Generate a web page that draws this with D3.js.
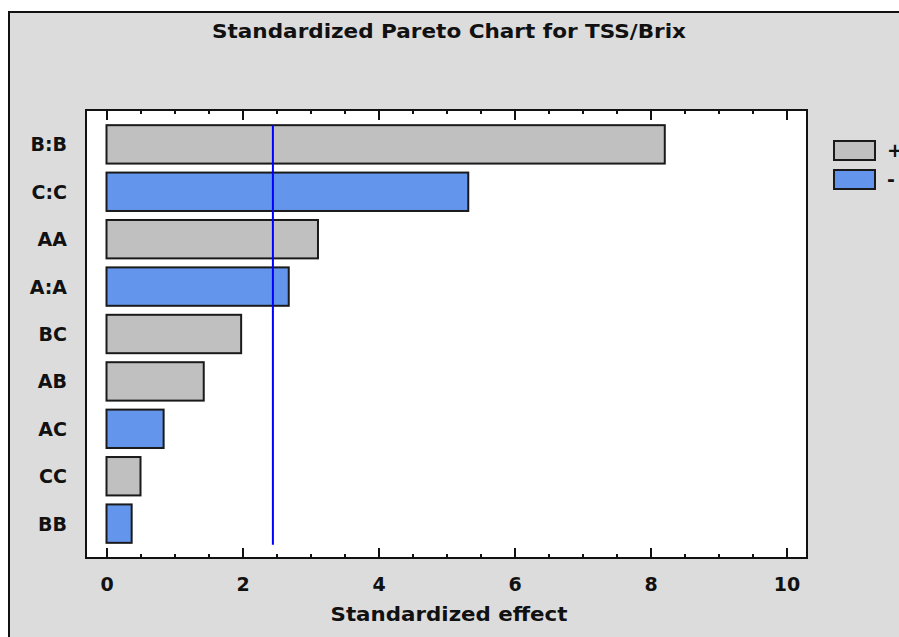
<!DOCTYPE html>
<html>
<head>
<meta charset="utf-8">
<script src="https://cdn.jsdelivr.net/npm/d3@7"></script>
<style>
  html, body { margin: 0; padding: 0; background: #ffffff; }
  svg { display: block; }
  text { font-family: "DejaVu Sans", Verdana, sans-serif; font-weight: bold; fill: #111; }
</style>
</head>
<body>
<svg id="chart" width="899" height="637"></svg>
<script>
// Effects, sorted by size of the standardized effect
const effects = ["B:B", "C:C", "AA", "A:A", "BC", "AB", "AC", "CC", "BB"];
const effectValues = [8.21, 5.32, 3.11, 2.68, 1.98, 1.43, 0.84, 0.50, 0.37];
const effectSigns = ["+", "-", "+", "-", "+", "+", "-", "+", "-"];
const xTicks = [0, 2, 4, 6, 8, 10];
const minorTicks = [0.5, 1, 1.5, 2.5, 3, 3.5, 4.5, 5, 5.5, 6.5, 7, 7.5, 8.5, 9, 9.5];
const criticalValue = 2.447;
const legendItems = ["+", "-"];

const colors = { "+": "#c0c0c0", "-": "#6495ed" };

const svg = d3.select("#chart");

// Outer panel
svg.append("rect")
  .attr("x", 9).attr("y", 12).attr("width", 1000).attr("height", 1000)
  .attr("fill", "#dcdcdc").attr("stroke", "#111").attr("stroke-width", 2);

// Title
svg.append("text")
  .attr("x", 449).attr("y", 38)
  .attr("text-anchor", "middle")
  .attr("font-size", 19)
  .attr("textLength", 474).attr("lengthAdjust", "spacingAndGlyphs")
  .text("Standardized Pareto Chart for TSS/Brix");

const plot = { left: 86, top: 110, right: 807, bottom: 558 };

const x = d3.scaleLinear().domain([0, 10]).range([106.5, 786.5]);
const y = d3.scaleBand().domain(effects)
  .range([plot.top, plot.bottom])
  .paddingInner(0.19).paddingOuter(0.32);

// Plot background
svg.append("rect")
  .attr("x", plot.left).attr("y", plot.top)
  .attr("width", plot.right - plot.left).attr("height", plot.bottom - plot.top)
  .attr("fill", "#ffffff");

// Bars
svg.append("g").selectAll("rect")
  .data(effects)
  .join("rect")
  .attr("x", x(0))
  .attr("y", d => y(d))
  .attr("width", (d, i) => x(effectValues[i]) - x(0))
  .attr("height", y.bandwidth())
  .attr("fill", (d, i) => colors[effectSigns[i]])
  .attr("stroke", "#1a1a1a").attr("stroke-width", 2);

// Critical value reference line
svg.append("line")
  .attr("x1", x(criticalValue)).attr("x2", x(criticalValue))
  .attr("y1", y(effects[0])).attr("y2", y(effects[effects.length - 1]) + y.bandwidth() + 2)
  .attr("stroke", "#0000ff").attr("stroke-width", 2);

// Plot frame
svg.append("rect")
  .attr("x", plot.left).attr("y", plot.top)
  .attr("width", plot.right - plot.left).attr("height", plot.bottom - plot.top)
  .attr("fill", "none").attr("stroke", "#111").attr("stroke-width", 2);

// Bottom axis (ticks pointing inward)
const bottomAxis = d3.axisBottom(x).tickValues(xTicks).tickSize(-10).tickPadding(20).tickFormat(d3.format("d"));
const gb = svg.append("g").attr("transform", `translate(0,${plot.bottom})`).call(bottomAxis);
gb.select(".domain").remove();
gb.selectAll(".tick line").attr("stroke", "#111").attr("stroke-width", 2);
gb.selectAll(".tick text").attr("font-size", 19).attr("font-family", "DejaVu Sans").attr("font-weight", "bold").attr("fill", "#111");

const gbm = svg.append("g").attr("transform", `translate(0,${plot.bottom})`)
  .call(d3.axisBottom(x).tickValues(minorTicks).tickSize(-4).tickFormat(""));
gbm.select(".domain").remove();
gbm.selectAll(".tick line").attr("stroke", "#111").attr("stroke-width", 2);

// Top axis (ticks pointing inward)
const gt = svg.append("g").attr("transform", `translate(0,${plot.top})`)
  .call(d3.axisTop(x).tickValues(xTicks).tickSize(-10).tickFormat(""));
gt.select(".domain").remove();
gt.selectAll(".tick line").attr("stroke", "#111").attr("stroke-width", 2);
const gtm = svg.append("g").attr("transform", `translate(0,${plot.top})`)
  .call(d3.axisTop(x).tickValues(minorTicks).tickSize(-4).tickFormat(""));
gtm.select(".domain").remove();
gtm.selectAll(".tick line").attr("stroke", "#111").attr("stroke-width", 2);

// Effect labels
svg.append("g").selectAll("text")
  .data(effects)
  .join("text")
  .attr("x", 67)
  .attr("y", d => y(d) + y.bandwidth() / 2 + 7)
  .attr("text-anchor", "end")
  .attr("font-size", 19)
  .text(d => d);

// Axis title
svg.append("text")
  .attr("x", 449).attr("y", 621)
  .attr("text-anchor", "middle")
  .attr("font-size", 20)
  .attr("textLength", 237).attr("lengthAdjust", "spacingAndGlyphs")
  .text("Standardized effect");

// Legend
const legend = svg.append("g").selectAll("g")
  .data(legendItems)
  .join("g")
  .attr("transform", (d, i) => `translate(834,${141 + i * 29})`);
legend.append("rect")
  .attr("width", 41).attr("height", 19)
  .attr("fill", d => colors[d])
  .attr("stroke", "#1a1a1a").attr("stroke-width", 2);
legend.append("text")
  .attr("x", 53).attr("y", 16)
  .attr("font-size", 19)
  .text(d => d);
</script>
</body>
</html>
